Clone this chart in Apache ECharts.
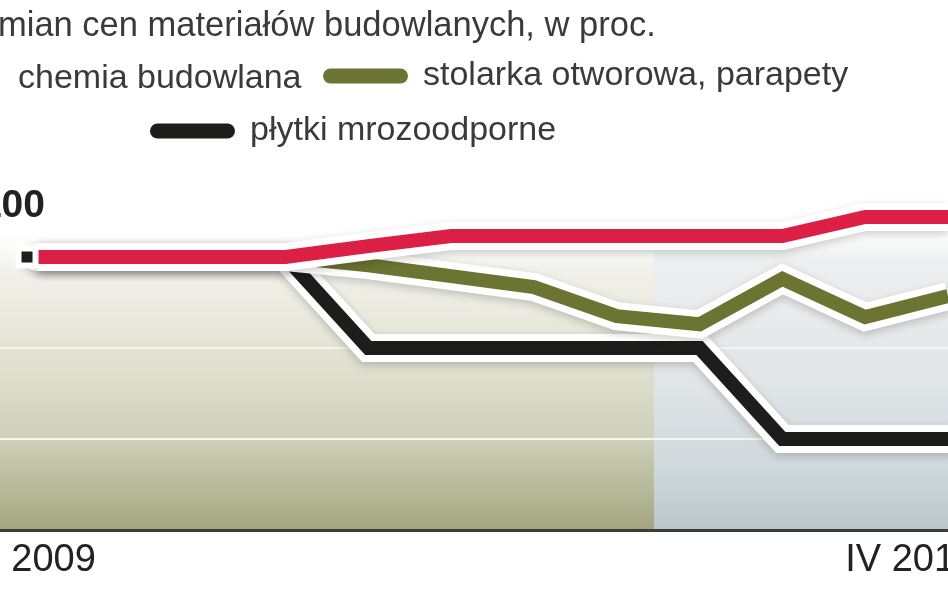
<!DOCTYPE html>
<html>
<head>
<meta charset="utf-8">
<title>Dynamika zmian cen materiałów budowlanych</title>
<script src="https://cdn.jsdelivr.net/npm/echarts@6/dist/echarts.min.js"></script>
<style>
html, body { margin: 0; padding: 0; background: #fff; }
#chart { width: 948px; height: 593px; }
</style>
</head>
<body>
<div id="chart"></div>
<script>
// kolejne odczyty (miesiace), os X liczona w punktach pomiaru
var pointIdx = [0, 1, 2, 3, 4, 5, 6, 7, 8, 9, 10, 11];
var chemia   = [100, 100, 100, 100, 100.12, 100.23, 100.23, 100.23, 100.23, 100.23, 100.44, 100.44];
var stolarka = [100, 100, 100, 100, 99.91, 99.79, 99.67, 99.35, 99.26, 99.76, 99.34, 99.57];
var plytki   = [100, 100, 100, 100, 99, 99, 99, 99, 99, 98, 98, 98];

var xTickLabels = ['2009', 'IV 2010'];
var xTickPos = [0.2, 10.55];
var yTickPos = [100];
var gridVals = [99, 98];
var yearSplit = 7.45; // granica 2009 / 2010

var xMin = -0.447, xMax = 11;
var TEXT_FONT = '"Liberation Sans", Arial, sans-serif';

function pairs(vals) {
    return pointIdx.map(function (x, i) { return [x, vals[i]]; });
}

function halo(vals, cap) {
    return {
        type: 'line',
        data: pairs(vals),
        symbol: 'none',
        silent: true,
        lineStyle: {
            color: '#fff', width: 28, cap: cap, join: 'miter',
            shadowBlur: 9, shadowColor: 'rgba(0,0,0,0.2)', shadowOffsetY: 3
        }
    };
}

var capsule = 'path://M7.5,0H77.5A7.5,7.5,0,0,1,77.5,15H7.5A7.5,7.5,0,0,1,7.5,0Z';
var legendBase = {
    orient: 'horizontal', padding: 0, itemWidth: 85, itemHeight: 15, itemGap: 0,
    icon: capsule, selectedMode: false,
    textStyle: { fontFamily: TEXT_FONT, fontSize: 34, color: '#3a3a3a', padding: [0, 0, 4, 10] }
};

var leftGrad = new echarts.graphic.LinearGradient(0, 0, 0, 1, [
    { offset: 0, color: 'rgba(255,255,255,0)' },
    { offset: 0.15, color: '#f2f2ec' },
    { offset: 0.4, color: '#e4e4d6' },
    { offset: 0.7, color: '#d0d1ba' },
    { offset: 1, color: '#a3a67f' }
]);
var rightGrad = new echarts.graphic.LinearGradient(0, 0, 0, 1, [
    { offset: 0, color: 'rgba(255,255,255,0)' },
    { offset: 0.12, color: '#eeeff0' },
    { offset: 0.5, color: '#e2e6e8' },
    { offset: 0.8, color: '#cfd8db' },
    { offset: 1, color: '#b9c7cb' }
]);

var myChart = echarts.init(document.getElementById('chart'));

var blackHalo = halo(plytki, 'round');
blackHalo.markArea = {
    silent: true,
    z: 0,
    label: { show: false },
    data: [
        [{ xAxis: xMin, yAxis: 100.4, itemStyle: { color: leftGrad } }, { xAxis: yearSplit, yAxis: 97 }],
        [{ xAxis: yearSplit, yAxis: 100.4, itemStyle: { color: rightGrad } }, { xAxis: xMax, yAxis: 97 }]
    ]
};
blackHalo.markLine = {
    silent: true,
    z: 1,
    symbol: 'none',
    label: { show: false },
    lineStyle: { color: '#f6f5ec', width: 2, type: 'solid' },
    data: gridVals.map(function (v) { return { yAxis: v }; })
};

var plytkiData = pairs(plytki);
plytkiData[0] = {
    value: plytkiData[0],
    symbol: 'rect', symbolSize: 17, symbolOffset: [-10, 0],
    itemStyle: { color: '#1d1d1b', borderColor: '#fff', borderWidth: 6 }
};

myChart.setOption({
    animation: false,
    title: {
        text: 'mian cen materiałów budowlanych, w proc.',
        left: -2, top: 9, padding: 0,
        textStyle: { fontFamily: TEXT_FONT, fontSize: 34.5, fontWeight: 'normal', color: '#3a3a3a' }
    },
    legend: [
        Object.assign({}, legendBase, { data: ['chemia budowlana'], left: -92, top: 62,
            textStyle: Object.assign({}, legendBase.textStyle, { padding: [0, 0, 4, 20] }) }),
        Object.assign({}, legendBase, { data: ['stolarka otworowa, parapety'], left: 323, top: 59 }),
        Object.assign({}, legendBase, { data: ['płytki mrozoodporne'], left: 150, top: 114 })
    ],
    grid: { left: 0, right: 0, top: 166, bottom: 63, outerBoundsMode: 'none' },
    xAxis: {
        type: 'value', min: xMin, max: xMax,
        axisLine: { show: true, lineStyle: { color: '#3b3b3b', width: 3 } },
        axisTick: { show: false },
        splitLine: { show: false },
        axisLabel: {
            customValues: xTickPos,
            formatter: function (v) { return xTickLabels[xTickPos.indexOf(v)] || ''; },
            fontFamily: TEXT_FONT, fontSize: 38, color: '#222', margin: 12
        }
    },
    yAxis: {
        type: 'value', min: 97, max: 101, interval: 1,
        axisLine: { show: false },
        axisTick: { show: false },
        splitLine: { show: false },
        axisLabel: {
            customValues: yTickPos,
            inside: true, margin: 45, align: 'right', verticalAlign: 'bottom',
            padding: [0, 0, 31, 0],
            fontFamily: TEXT_FONT,
            fontSize: 39, fontWeight: 'bold', color: '#222'
        }
    },
    series: [
        blackHalo,
        {
            name: 'płytki mrozoodporne', type: 'line', data: plytkiData,
            symbol: 'none', color: '#1d1d1b',
            lineStyle: { color: '#1d1d1b', width: 14, cap: 'butt', join: 'miter' }
        },
        halo(stolarka, 'butt'),
        {
            name: 'stolarka otworowa, parapety', type: 'line', data: pairs(stolarka),
            symbol: 'none', color: '#6c7431',
            lineStyle: { color: '#6c7431', width: 14, cap: 'butt', join: 'miter' }
        },
        halo(chemia, 'butt'),
        {
            name: 'chemia budowlana', type: 'line', data: pairs(chemia),
            symbol: 'none', color: '#dc1f44',
            lineStyle: { color: '#dc1f44', width: 14, cap: 'butt', join: 'miter' }
        }
    ]
});
</script>
</body>
</html>
